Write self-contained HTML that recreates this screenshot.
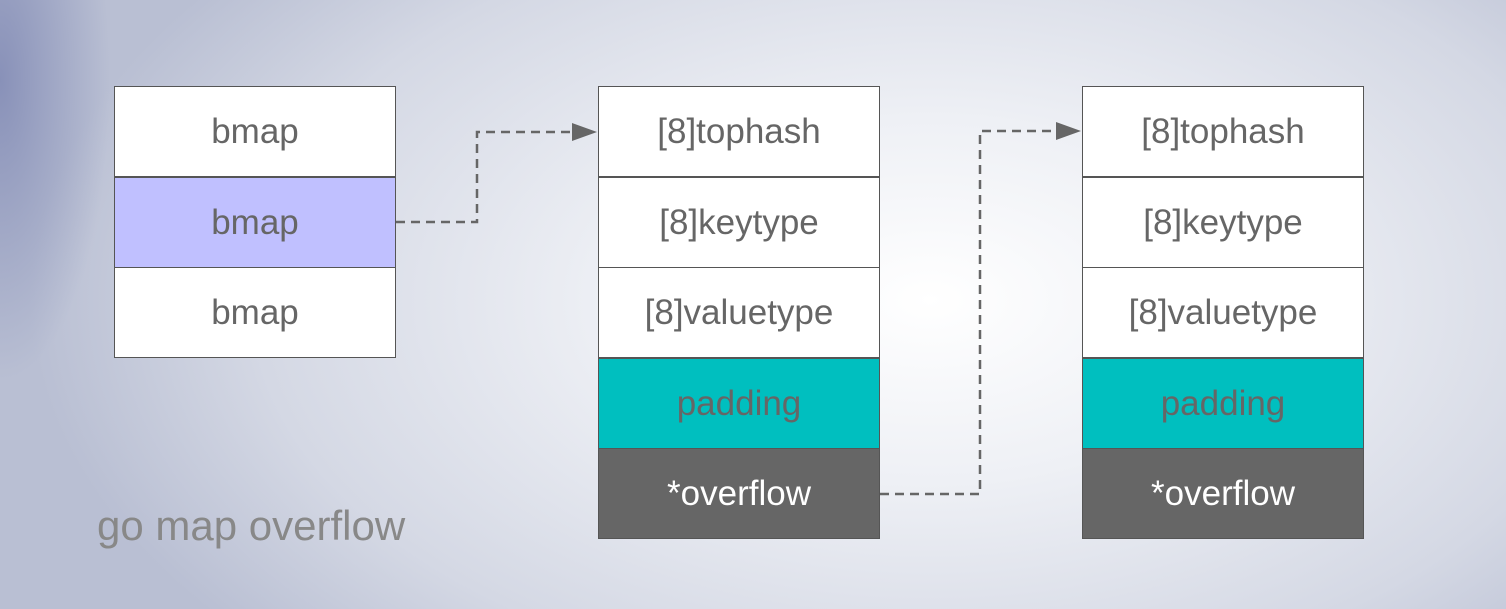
<!DOCTYPE html>
<html><head><style>
body{margin:0;width:1506px;height:609px;overflow:hidden;font-family:"Liberation Sans",sans-serif;
background:radial-gradient(ellipse 900px 520px at 930px 300px,#ffffff 0%,#eef0f5 35%,#d4d8e4 75%,#b9bfd3 100%);position:relative}
.corner{position:absolute;left:0;top:0;width:1506px;height:609px;background:radial-gradient(ellipse 110px 300px at 0px 80px,rgba(110,120,170,0.65),rgba(120,130,175,0) 100%)}
.b{position:absolute;box-sizing:border-box;width:282px;height:91px;border:1px solid #555;background:#fff;color:#666;font-size:35px;display:flex;align-items:center;justify-content:center}
.t{position:absolute;left:97px;top:502px;font-size:42px;color:#888}
</style></head><body>
<div class="corner"></div>
<div class="b" style="left:114px;top:86px">bmap</div>
<div class="b" style="left:114px;top:177px;background:#c0c0ff">bmap</div>
<div class="b" style="left:114px;top:267px">bmap</div>

<div class="b" style="left:598px;top:86px">[8]tophash</div>
<div class="b" style="left:598px;top:177px">[8]keytype</div>
<div class="b" style="left:598px;top:267px">[8]valuetype</div>
<div class="b" style="left:598px;top:358px;background:#00bfbf">padding</div>
<div class="b" style="left:598px;top:448px;background:#666;color:#fff">*overflow</div>

<div class="b" style="left:1082px;top:86px">[8]tophash</div>
<div class="b" style="left:1082px;top:177px">[8]keytype</div>
<div class="b" style="left:1082px;top:267px">[8]valuetype</div>
<div class="b" style="left:1082px;top:358px;background:#00bfbf">padding</div>
<div class="b" style="left:1082px;top:448px;background:#666;color:#fff">*overflow</div>

<div class="t">go map overflow</div>
<svg width="1506" height="609" style="position:absolute;left:0;top:0">
<g fill="none" stroke="#666" stroke-width="2.5" stroke-dasharray="9,6">
<polyline points="396,222 477,222 477,132 574,132"/>
<polyline points="880,494 980,494 980,131 1058,131"/>
</g>
<polygon points="572,123 597,132 572,141" fill="#666"/>
<polygon points="1056,122 1081,131 1056,140" fill="#666"/>
</svg>
</body></html>
